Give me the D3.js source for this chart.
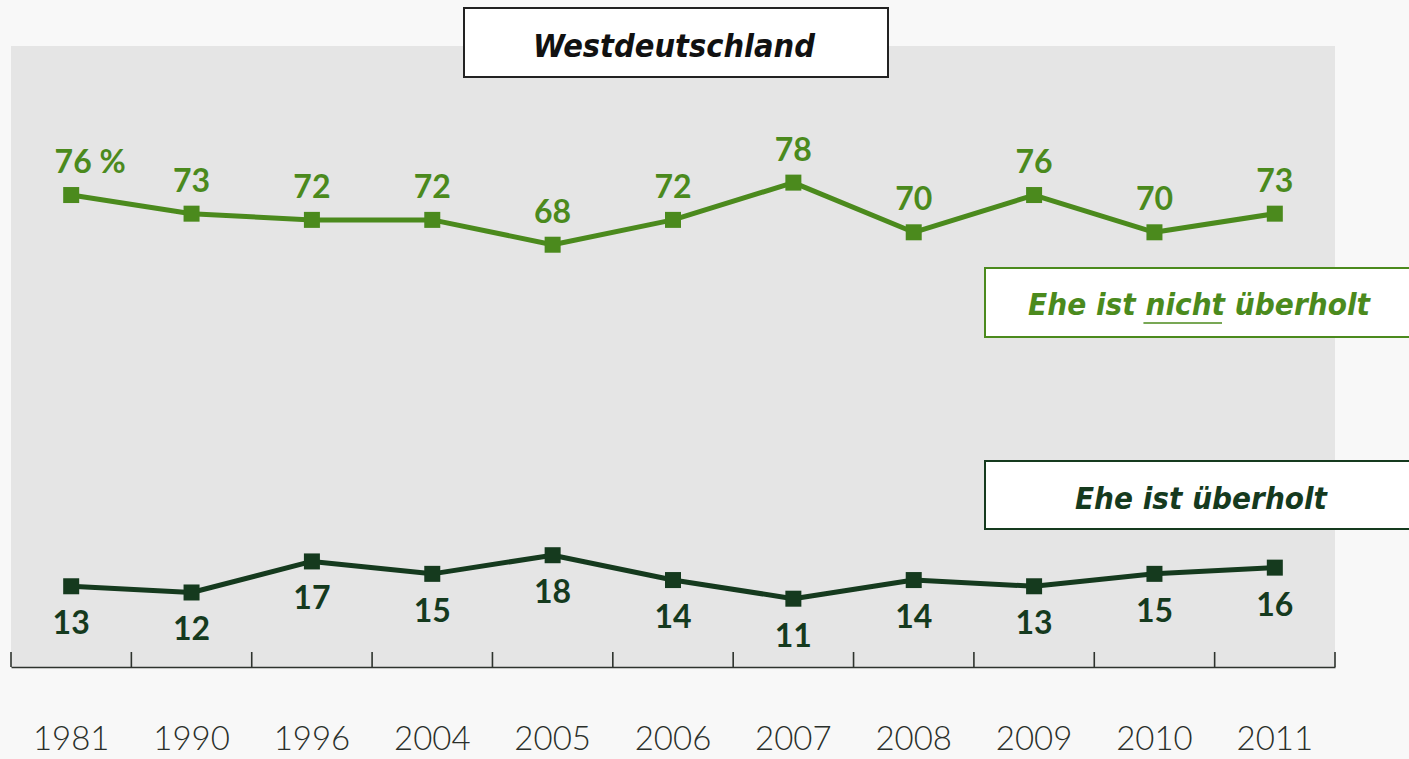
<!DOCTYPE html>
<html>
<head>
<meta charset="utf-8">
<script src="https://cdn.jsdelivr.net/npm/d3@7"></script>
<style>
  html, body { margin: 0; padding: 0; background: #f8f8f8; }
  svg { display: block; }
</style>
</head>
<body>
<svg id="chart" width="1409" height="759"></svg>
<script>
// ---- data ----
const years = ["1981", "1990", "1996", "2004", "2005", "2006", "2007", "2008", "2009", "2010", "2011"];
const nichtUeberholt = [76, 73, 72, 72, 68, 72, 78, 70, 76, 70, 73];
const ueberholt = [13, 12, 17, 15, 18, 14, 11, 14, 13, 15, 16];
const title = "Westdeutschland";
const legendNicht = "Ehe ist nicht überholt";
const underlinedWord = "nicht";
const legendUeber = "Ehe ist überholt";

// ---- layout ----
const W = 1409, H = 759;
const plotL = 11, plotR = 1335, plotT = 46, plotB = 667;
const green = "#4b8a1d", dark = "#153a1e", axisCol = "#2e332e";
const numFont = "Lato, 'Open Sans', sans-serif";
const textFont = "'DejaVu Sans', 'Liberation Sans', sans-serif";

const svg = d3.select("#chart");

const x = d3.scaleBand().domain(years).range([plotL, plotR]).padding(0);
const y = d3.scaleLinear().domain([0, 100]).range([plotB, plotT]);
const cx = d => x(d) + x.bandwidth() / 2;

// panel
svg.append("rect").attr("x", plotL).attr("y", plotT)
  .attr("width", plotR - plotL).attr("height", plotB - plotT)
  .attr("fill", "#e5e5e5");

// axis (domain line + year labels)
const axisG = svg.append("g").attr("transform", `translate(0,${plotB})`)
  .call(d3.axisBottom(x).tickSize(0).tickSizeOuter(0).tickPadding(0));
axisG.select(".domain").attr("stroke", axisCol).attr("stroke-width", 1.6);
axisG.selectAll(".tick text")
  .attr("y", 83).attr("dy", 0)
  .attr("text-anchor", "middle")
  .attr("fill", "#2a2f2a")
  .style("font-family", numFont)
  .style("font-weight", 300)
  .style("font-size", "33px");

// edge ticks
const edges = years.map(d => x(d)).concat([x.range()[1]]);
svg.append("g").selectAll("line").data(edges).join("line")
  .attr("x1", d => d).attr("x2", d => d)
  .attr("y1", plotB - 15).attr("y2", plotB)
  .attr("stroke", axisCol).attr("stroke-width", 1.6);

// series
function drawSeries(values, color, above) {
  const pts = years.map((yr, i) => ({ yr, v: values[i] }));
  const line = d3.line().x(d => cx(d.yr)).y(d => y(d.v));
  svg.append("path").datum(pts)
    .attr("d", line).attr("fill", "none")
    .attr("stroke", color).attr("stroke-width", 5)
    .attr("stroke-linejoin", "round");
  svg.append("g").selectAll("rect").data(pts).join("rect")
    .attr("x", d => cx(d.yr) - 8).attr("y", d => y(d.v) - 8)
    .attr("width", 16).attr("height", 16).attr("fill", color);
  const labels = svg.append("g").selectAll("text").data(pts).join("text")
    .attr("x", d => cx(d.yr))
    .attr("y", d => y(d.v) + (above ? -22 : 48))
    .attr("text-anchor", "middle")
    .attr("fill", color)
    .style("font-family", numFont)
    .style("font-weight", 700)
    .style("font-size", "32px")
    .text(d => d.v);
  return labels;
}
const topLabels = drawSeries(nichtUeberholt, green, true);
drawSeries(ueberholt, dark, false);

// first top label gets " %" with the number centred on the point
topLabels.filter((d, i) => i === 0).each(function(d) {
  const t = d3.select(this);
  const numW = this.getComputedTextLength();
  t.attr("text-anchor", "start").attr("x", cx(d.yr) - numW / 2 + 2);
  t.text(d.v + " %");
});

// title box
svg.append("rect").attr("x", 464).attr("y", 8).attr("width", 424).attr("height", 69)
  .attr("fill", "#ffffff").attr("stroke", "#222").attr("stroke-width", 2);
svg.append("text").attr("x", 533).attr("y", 57)
  .attr("textLength", 282).attr("lengthAdjust", "spacingAndGlyphs")
  .attr("fill", "#111")
  .style("font-family", textFont).style("font-style", "italic")
  .style("font-weight", 600).style("font-size", "32px")
  .text(title);

// legend box: nicht überholt
svg.append("rect").attr("x", 985).attr("y", 268).attr("width", 440).attr("height", 69)
  .attr("fill", "#ffffff").attr("stroke", green).attr("stroke-width", 2);
const lg1 = svg.append("text").attr("x", 1028).attr("y", 315)
  .attr("textLength", 342).attr("lengthAdjust", "spacingAndGlyphs")
  .attr("fill", green)
  .style("font-family", textFont).style("font-style", "italic")
  .style("font-weight", 600).style("font-size", "31px")
  .text(legendNicht);
// underline under "nicht"
{
  const node = lg1.node();
  const start = legendNicht.indexOf(underlinedWord);
  const end = start + underlinedWord.length - 1;
  const x0 = node.getStartPositionOfChar(start).x;
  const x1 = node.getEndPositionOfChar(end).x;
  svg.append("line").attr("x1", x0 - 2).attr("x2", x1 - 3)
    .attr("y1", 323).attr("y2", 323)
    .attr("stroke", green).attr("stroke-width", 1.5);
}

// legend box: überholt
svg.append("rect").attr("x", 985).attr("y", 461).attr("width", 440).attr("height", 68)
  .attr("fill", "#ffffff").attr("stroke", dark).attr("stroke-width", 2);
svg.append("text").attr("x", 1075).attr("y", 509)
  .attr("textLength", 252).attr("lengthAdjust", "spacingAndGlyphs")
  .attr("fill", dark)
  .style("font-family", textFont).style("font-style", "italic")
  .style("font-weight", 600).style("font-size", "31px")
  .text(legendUeber);
</script>
</body>
</html>
